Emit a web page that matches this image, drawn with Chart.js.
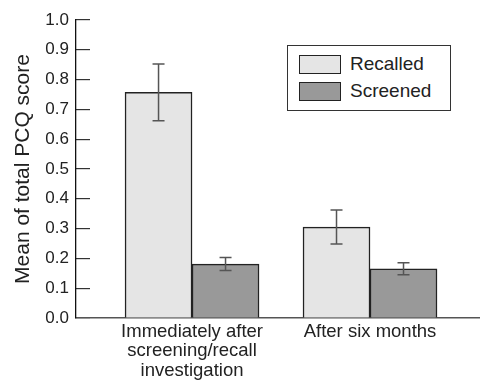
<!DOCTYPE html>
<html>
<head>
<meta charset="utf-8">
<script src="https://cdn.jsdelivr.net/npm/chart.js@4"></script>
<style>
  body { margin: 0; background: #fff; }
  #wrap { position: relative; width: 480px; height: 381px; }
  #legendBox {
    position: absolute; left: 287px; top: 45px; width: 162px; height: 64px;
    border: 1.5px solid #333; background: #fff;
    font-family: "Liberation Sans", Arial, sans-serif; font-size: 19px; color: #222;
  }
  .item { position: absolute; left: 11px; height: 20px; display: flex; align-items: center; }
  .sw { width: 40px; height: 17px; border: 1.5px solid #222; margin-right: 9px; }
</style>
</head>
<body>
<div id="wrap">
  <canvas id="c" width="480" height="381"></canvas>
  <div id="legendBox"></div>
</div>
<script>
// categories and series
const categories = [
  ["Immediately after", "screening/recall", "investigation"],
  ["After six months"]
];
const seriesNames = ["Recalled", "Screened"];
const recalled = [0.757, 0.305];
const recalledErr = [0.095, 0.057];
const screened = [0.181, 0.165];
const screenedErr = [0.022, 0.02];
const yTicks = [0, 0.1, 0.2, 0.3, 0.4, 0.5, 0.6, 0.7, 0.8, 0.9, 1.0];

const colors = ["#e5e5e5", "#999999"];
const errs = [recalledErr, screenedErr];

function pts(vals) {
  return vals.map((v, i) => ({ x: i, y: v }));
}

// legend (boxed, inside plot)
const lb = document.getElementById("legendBox");
seriesNames.forEach((name, i) => {
  const d = document.createElement("div");
  d.className = "item";
  d.style.top = (8 + i * 27) + "px";
  d.innerHTML = '<span class="sw" style="background:' + colors[i] + '"></span>' + name;
  lb.appendChild(d);
});

// error bars drawn from the scales
const errorBars = {
  id: "errorBars",
  afterDatasetsDraw(chart) {
    const ctx = chart.ctx;
    const y = chart.scales.y;
    ctx.save();
    ctx.strokeStyle = "#555";
    ctx.lineWidth = 1.5;
    chart.data.datasets.forEach((ds, di) => {
      chart.getDatasetMeta(di).data.forEach((bar, i) => {
        const v = ds.data[i].y, e = errs[di][i];
        const top = y.getPixelForValue(v + e), bot = y.getPixelForValue(v - e);
        ctx.beginPath();
        ctx.moveTo(bar.x, top); ctx.lineTo(bar.x, bot);
        ctx.moveTo(bar.x - 6, top); ctx.lineTo(bar.x + 6, top);
        ctx.moveTo(bar.x - 6, bot); ctx.lineTo(bar.x + 6, bot);
        ctx.stroke();
      });
    });
    ctx.restore();
  }
};

Chart.defaults.font.family = '"Liberation Sans", Arial, sans-serif';
Chart.defaults.color = "#222";

new Chart(document.getElementById("c"), {
  type: "bar",
  data: {
    datasets: [
      { label: seriesNames[0], data: pts(recalled), backgroundColor: colors[0], borderColor: "#222", borderWidth: 1.5 },
      { label: seriesNames[1], data: pts(screened), backgroundColor: colors[1], borderColor: "#222", borderWidth: 1.5 }
    ]
  },
  options: {
    responsive: false,
    devicePixelRatio: 1,
    animation: false,
    barThickness: 67,
    layout: { padding: { top: 20, right: 0, bottom: 0, left: 0 } },
    plugins: { legend: { display: false }, tooltip: { enabled: false } },
    scales: {
      x: {
        type: "linear",
        offset: false,
        min: -0.652,
        max: 1.618,
        grid: { display: false, drawTicks: false },
        border: { display: true, color: "#555", width: 1.5 },
        afterBuildTicks: s => { s.ticks = categories.map((c, i) => ({ value: i })); },
        afterFit: s => { s.height = 63; },
        ticks: {
          autoSkip: false,
          maxRotation: 0,
          padding: 4,
          font: { size: 18.5, lineHeight: 1.05 },
          callback: v => categories[v]
        }
      },
      y: {
        min: 0,
        max: 1,
        afterBuildTicks: s => { s.ticks = yTicks.map(v => ({ value: v })); },
        afterFit: s => { s.width = 76; s.paddingTop = 0; s.paddingBottom = 0; },
        grid: { drawOnChartArea: false, drawTicks: true, tickLength: -14, color: "#333", lineWidth: 1.2 },
        border: { display: true, color: "#111", width: 1.3 },
        ticks: {
          padding: 21,
          font: { size: 17 },
          callback: v => v.toFixed(1)
        },
        title: {
          display: true,
          text: "Mean of total PCQ score",
          font: { size: 21 },
          padding: { top: 11, bottom: 0 }
        }
      }
    }
  },
  plugins: [errorBars]
});
</script>
</body>
</html>
